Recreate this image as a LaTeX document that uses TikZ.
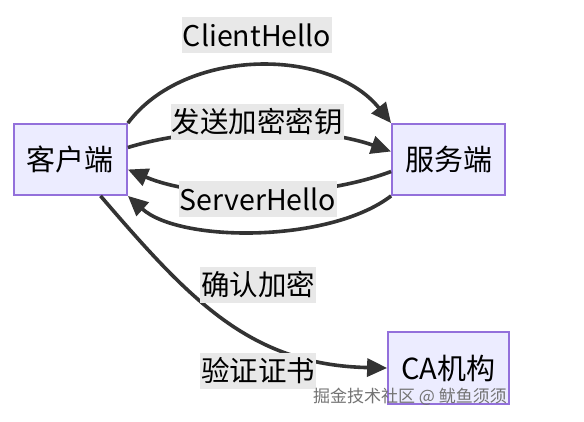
\documentclass[tikz,border=0pt]{standalone}
\usepackage{fontspec}
\setmainfont{Noto Sans CJK SC}
\usetikzlibrary{positioning,arrows.meta}
\definecolor{boxfill}{HTML}{ECECFF}
\definecolor{boxline}{HTML}{9370DB}
\definecolor{edgeline}{HTML}{333333}
\definecolor{labelbg}{HTML}{E8E8E8}

\begin{document}
\begin{tikzpicture}[x=1pt, y=-1pt, ->, >={Triangle[length=20pt,width=18pt]},
  main node/.style={rectangle, draw=boxline, line width=1.8pt, fill=boxfill, minimum width=113pt, minimum height=71pt, font=\fontsize{29}{34}\selectfont},
  edge label/.style={fill=labelbg, inner xsep=1pt, inner ysep=0pt, minimum height=36pt, font=\fontsize{28.5}{34}\selectfont},
  flow/.style={draw=edgeline, line width=3.6pt}]

  \useasboundingbox (0,0) rectangle (584,422);

  % Define nodes
  \node[main node] (client) at (70.5,159.5) {客户端};
  \node[main node] (server) at (448.5,159.5) {服务端};
  \node[main node, minimum width=121pt, minimum height=72pt] (ca) at (448.5,368) {CA机构};

  % Define edges
  \draw[flow] (client.north east) .. controls (185,47) and (330,47) .. (server.north west);
  \draw[flow] ([yshift=12pt]client.east) .. controls (200,125) and (315,125) .. ([yshift=8pt]server.west);
  \draw[flow] ([yshift=-12pt]server.west) .. controls (315,200) and (200,200) .. ([yshift=-10pt]client.east);
  \draw[flow] (server.south west) .. controls (330,243) and (180,243) .. (client.south east);
  \draw[flow] ([xshift=30pt]client.south) .. controls (190,300) and (250,365) .. (ca.west);

  % Edge labels
  \node[edge label] (lblhello) at (257,35) {ClientHello};
  \node[edge label] (lblkey) at (257,122) {发送加密密钥};
  \node[edge label] (lblserver) at (258,199) {ServerHello};
  \node[edge label] (lblconfirm) at (258,285) {确认加密};
  \node[edge label] (lblverify) at (258,371) {验证证书};

  \node[text=gray!90!black, font=\fontsize{17}{20}\selectfont] (mark) at (410,397) {掘金技术社区 @ 鱿鱼须须};
\end{tikzpicture}
\end{document}
